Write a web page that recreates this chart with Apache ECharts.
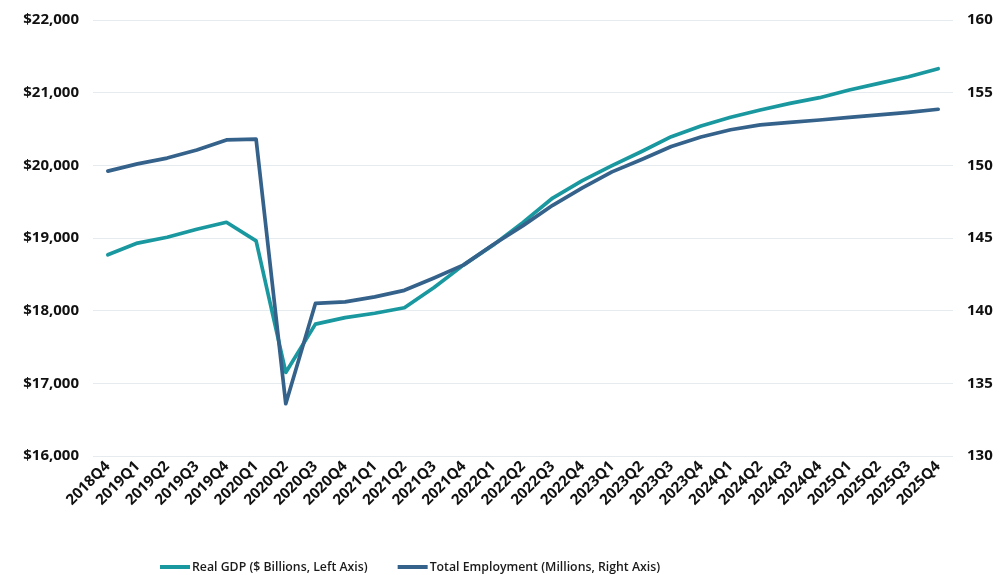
<!DOCTYPE html>
<html>
<head>
<meta charset="utf-8">
<script src="https://cdn.jsdelivr.net/npm/echarts@6/dist/echarts.min.js"></script>
<style>
  html, body { margin: 0; padding: 0; background: #ffffff; }
  #chart { width: 1006px; height: 575px; }
</style>
</head>
<body>
<div id="chart"></div>
<script>
// Quarterly categories
const quarters = [
  '2018Q4','2019Q1','2019Q2','2019Q3','2019Q4',
  '2020Q1','2020Q2','2020Q3','2020Q4',
  '2021Q1','2021Q2','2021Q3','2021Q4',
  '2022Q1','2022Q2','2022Q3','2022Q4',
  '2023Q1','2023Q2','2023Q3','2023Q4',
  '2024Q1','2024Q2','2024Q3','2024Q4',
  '2025Q1','2025Q2','2025Q3','2025Q4'
];

// Real GDP, $ billions (left axis)
const realGdp = [
  18770, 18930, 19010, 19120, 19216,
  18960, 17150, 17815, 17905,
  17965, 18040, 18320, 18630,
  18905, 19215, 19550, 19790,
  19995, 20190, 20394, 20541,
  20661, 20762, 20853, 20931,
  21037, 21128, 21220, 21330
];

// Total employment, millions (right axis)
const totalEmployment = [
  149.6, 150.1, 150.5, 151.05, 151.75,
  151.8, 133.6, 140.5, 140.6,
  140.95, 141.4, 142.25, 143.15,
  144.55, 145.85, 147.25, 148.45,
  149.55, 150.4, 151.3, 151.95,
  152.45, 152.78, 152.95, 153.12,
  153.3, 153.47, 153.65, 153.86
];

// Axis ranges
const gdpMin = 16000, gdpMax = 22000, gdpStep = 1000;
const empMin = 130, empMax = 160, empStep = 5;

const seriesNames = ['Real GDP ($ Billions, Left Axis)', 'Total Employment (Millions, Right Axis)'];
const colors = ['#1a98a0', '#35628b'];

const fontFamily = '"Open Sans", "DejaVu Sans", sans-serif';
const chart = echarts.init(document.getElementById('chart'), null, { renderer: 'canvas' });

chart.setOption({
  animation: false,
  backgroundColor: '#ffffff',
  color: colors,
  grid: { left: 93, right: 53, top: 20, bottom: 119, containLabel: false },
  legend: {
    top: 556,
    left: 155,
    itemWidth: 30,
    itemHeight: 4,
    itemGap: 30,
    icon: 'rect',
    textStyle: { fontFamily, fontSize: 12.3, fontWeight: 600, color: '#1a1a1a', padding: [0, 0, 0, -3] },
    data: seriesNames
  },
  xAxis: {
    type: 'category',
    data: quarters,
    boundaryGap: true,
    axisLine: { show: false },
    axisTick: { show: false },
    axisLabel: {
      interval: 0,
      rotate: 45,
      margin: 8,
      fontFamily, fontSize: 15, fontWeight: 700, color: '#111'
    }
  },
  yAxis: [
    {
      type: 'value',
      min: gdpMin, max: gdpMax, interval: gdpStep,
      axisLine: { show: false },
      axisTick: { show: false },
      splitLine: { lineStyle: { color: '#e6ebf0', width: 1 } },
      axisLabel: {
        margin: 14,
        fontFamily, fontSize: 15, fontWeight: 700, color: '#111',
        formatter: v => '$' + v.toLocaleString('en-US')
      }
    },
    {
      type: 'value',
      min: empMin, max: empMax, interval: empStep,
      position: 'right',
      axisLine: { show: false },
      axisTick: { show: false },
      splitLine: { show: false },
      axisLabel: {
        margin: 14,
        fontFamily, fontSize: 15, fontWeight: 700, color: '#111'
      }
    }
  ],
  series: [
    {
      name: seriesNames[0],
      type: 'line',
      yAxisIndex: 0,
      data: realGdp,
      showSymbol: false,
      lineStyle: { width: 3.7, color: colors[0], cap: 'round', join: 'round' },
      z: 3
    },
    {
      name: seriesNames[1],
      type: 'line',
      yAxisIndex: 1,
      data: totalEmployment,
      showSymbol: false,
      lineStyle: { width: 3.7, color: colors[1], cap: 'round', join: 'round' },
      z: 4
    }
  ]
});
</script>
</body>
</html>
